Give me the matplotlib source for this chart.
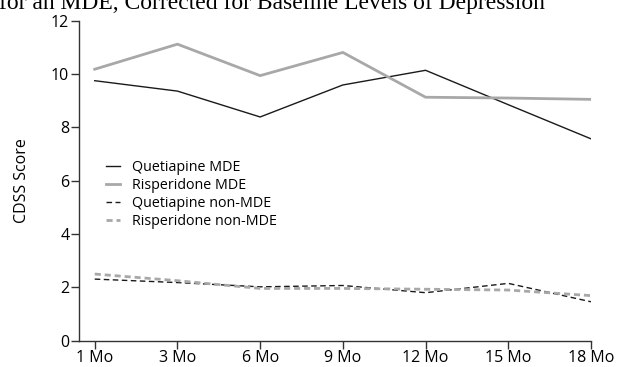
import matplotlib.pyplot as plt
import numpy as np

months = ["1 Mo", "3 Mo", "6 Mo", "9 Mo", "12 Mo", "15 Mo", "18 Mo"]
quet_mde = [9.75, 9.36, 8.39, 9.59, 10.14, 8.85, 7.57]
risp_mde = [10.18, 11.12, 9.94, 10.81, 9.13, 9.10, 9.05]
quet_non = [2.31, 2.18, 2.02, 2.07, 1.80, 2.15, 1.46]
risp_non = [2.50, 2.25, 1.96, 1.96, 1.93, 1.90, 1.69]

plt.rcParams['font.family'] = ['Open Sans', 'DejaVu Sans']

fig = plt.figure(figsize=(6.26, 3.67), dpi=100)
# axes box in pixels: left 79, right 591, top 20.7, bottom 340.7
ax = fig.add_axes([79/626, (367-340.7)/367, 512/626, 320/367])

x = np.arange(len(months))
ax.plot(x, quet_mde, color='#1a1a1a', lw=1.0, label='Quetiapine MDE')
ax.plot(x, risp_mde, color='#a8a8a8', lw=2.0, label='Risperidone MDE')
ax.plot(x, quet_non, color='#1a1a1a', lw=1.0, ls=(0, (4, 2.5)), label='Quetiapine non-MDE')
ax.plot(x, risp_non, color='#a8a8a8', lw=2.0, ls=(0, (2.2, 1.4)), label='Risperidone non-MDE')

ax.set_xlim(-0.19, 6)
ax.set_ylim(0, 12)
ax.set_xticks(x)
ax.set_xticklabels(months)
ax.set_yticks(range(0, 13, 2))
ax.tick_params(direction='out', length=5.5, width=1, labelsize=11.5, color='#333333')
ax.tick_params(axis='x', pad=1)
ax.tick_params(axis='y', pad=1.5)
for s in ['top', 'right']:
    ax.spines[s].set_visible(False)
for s in ['left', 'bottom']:
    ax.spines[s].set_color('#333333')
    ax.spines[s].set_linewidth(1.0)
ax.set_ylabel('CDSS Score', fontsize=11.5)
ax.yaxis.set_label_coords(-0.095, 0.5)

ax.legend(loc='upper left', bbox_to_anchor=(0.053, 0.565), frameon=False, fontsize=10.3,
          handlelength=1.0, handletextpad=0.8, labelspacing=0.21, borderpad=0, borderaxespad=0)

# title line is cut off at the top edge in the source
fig.text(-0.002, 1 - 9.5/367, 'for an MDE, Corrected for Baseline Levels of Depression',
         family='Liberation Serif', fontsize=17, va='baseline', ha='left')

fig.savefig('out.png', dpi=100)
